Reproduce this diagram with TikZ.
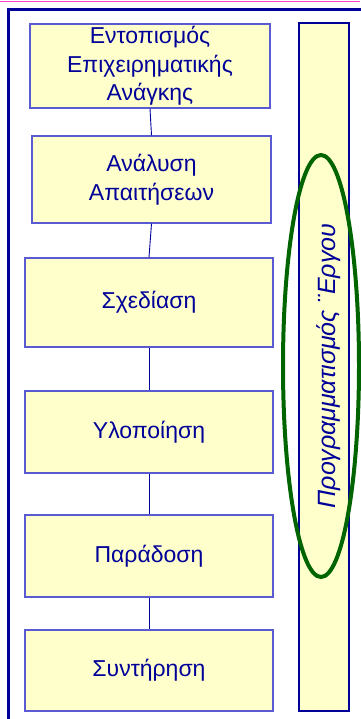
\documentclass[tikz,border=0pt]{standalone}
\usepackage{fontspec}
\setmainfont{Liberation Sans}
\definecolor{navy}{RGB}{0,0,153}
\definecolor{boxline}{RGB}{90,90,210}
\definecolor{boxfill}{RGB}{255,255,204}
\definecolor{topline}{RGB}{255,68,200}
\definecolor{ovalgreen}{RGB}{0,100,0}
\begin{document}
\begin{tikzpicture}[x=1pt,y=-1pt,
  stagebox/.style={draw=boxline, line width=1.3pt, fill=boxfill, text=navy,
    align=center, inner sep=0pt, font=\fontsize{23}{28.5}\selectfont},
  link/.style={draw=navy, line width=0.9pt}]
\useasboundingbox (0,0) rectangle (360,719);
\draw[topline, line width=1pt] (0,1.5) -- (360,1.5);
\draw[navy, line width=3pt] (8.5,740) -- (8.5,9.5) -- (380,9.5);
\node[stagebox, minimum width=240pt, minimum height=84pt] (b1) at (150,66)
  {Εντοπισμός\\Επιχειρηματικής\\Ανάγκης};
\node[stagebox, minimum width=239pt, minimum height=87pt] (b2) at (151.5,179.5)
  {Ανάλυση\\Απαιτήσεων};
\node[stagebox, minimum width=248pt, minimum height=89pt] (b3) at (149,302.5)
  {Σχεδίαση};
\node[stagebox, minimum width=248pt, minimum height=82pt] (b4) at (149,432)
  {Υλοποίηση};
\node[stagebox, minimum width=248pt, minimum height=82pt] (b5) at (149,556)
  {Παράδοση};
\node[stagebox, minimum width=248pt, minimum height=81pt] (b6) at (149,670.5)
  {Συντήρηση};
\draw[link] (b1.south) -- (b2.north);
\draw[link] (b2.south) -- (b3.north);
\draw[link] (b3.south) -- (b4.north);
\draw[link] (b4.south) -- (b5.north);
\draw[link] (b5.south) -- (b6.north);
\node[draw=navy, line width=1.3pt, fill=boxfill, minimum width=50pt,
  minimum height=688pt, inner sep=0pt] (plan) at (324,367) {};
\node[rotate=90, text=navy, inner sep=0pt,
  font=\fontsize{25}{30}\selectfont\itshape] (plantext) at (328.5,366)
  {Προγραμματισμός ¨Εργου};
\draw[ovalgreen, line width=4pt] (321,366) ellipse [x radius=38, y radius=211];
\end{tikzpicture}
\end{document}
